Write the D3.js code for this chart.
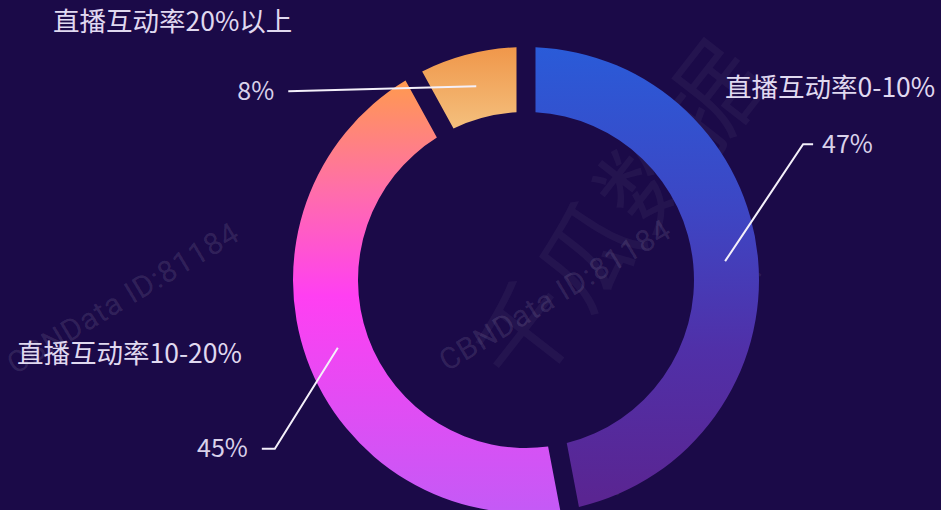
<!DOCTYPE html>
<html>
<head>
<meta charset="utf-8">
<script src="https://cdn.jsdelivr.net/npm/d3@7"></script>
<style>
  html, body { margin: 0; padding: 0; background: #1b0a48; }
  svg { display: block; }
</style>
</head>
<body>
<script>
//Chart data
var categories = ["直播互动率0-10%", "直播互动率10-20%", "直播互动率20%以上"];
var values = [47, 45, 8];
var percentLabels = ["47%", "45%", "8%"];

//SVG size
var w = 941;
var h = 510;
var cx = 526, cy = 280;
var rOuter = 233, rInner = 168, rLabel = 200;

var svg = d3.select("body")
  .append("svg")
  .attr("width", w)
  .attr("height", h);

svg.append("rect")
  .attr("width", w)
  .attr("height", h)
  .attr("fill", "#1b0a48");

//Gradients, one per slice (vertical, y given in page pixels)
var gradients = [
  {id: "g0", y1: 47, y2: 512, stops: [[0, "#2a5bd8"], [0.35, "#3d46c4"], [0.65, "#5030a8"], [1, "#5b2490"]]},
  {id: "g1", y1: 80, y2: 512, stops: [[0, "#ff9a4e"], [0.25, "#ff6fa8"], [0.5, "#ff3ff2"], [1, "#c45af6"]]},
  {id: "g2", y1: 47, y2: 130, stops: [[0, "#f0974a"], [1, "#f4c07e"]]}
];

var defs = svg.append("defs");
gradients.forEach(function (g) {
  //slices live in a group translated to the centre, so shift by cy
  var lg = defs.append("linearGradient")
    .attr("id", g.id)
    .attr("gradientUnits", "userSpaceOnUse")
    .attr("x1", 0).attr("x2", 0)
    .attr("y1", g.y1 - cy).attr("y2", g.y2 - cy);
  g.stops.forEach(function (s) {
    lg.append("stop").attr("offset", s[0]).attr("stop-color", s[1]);
  });
});

//Watermarks (faint, behind everything)
var wm = svg.append("g").attr("fill", "#ffffff").attr("font-family", "Roboto, sans-serif");
[[15, 375], [447, 372]].forEach(function (p) {
  wm.append("text")
    .attr("transform", "translate(" + p[0] + "," + p[1] + ") rotate(-31)")
    .attr("font-size", "30px")
    .attr("letter-spacing", "1px")
    .attr("fill-opacity", 0.11)
    .text("CBNData ID:81184");
});
wm.append("text")
  .attr("transform", "translate(525,395) rotate(-52)")
  .attr("font-size", "100px")
  .attr("font-family", "'Noto Sans CJK SC', sans-serif")
  .attr("fill-opacity", 0.045)
  .text("千瓜数据");
wm.append("text")
  .attr("transform", "translate(615,500) rotate(-57)")
  .attr("font-size", "30px")
  .attr("letter-spacing", "1px")
  .attr("fill-opacity", 0.08)
  .text("www.qian-gua.com");

//Donut
var pie = d3.pie().sort(null).value(function (d) { return d; });
var arcs = pie(values);

var arc = d3.arc()
  .innerRadius(rInner)
  .outerRadius(rOuter)
  .padRadius(rOuter)
  .padAngle(19 / rOuter);

var labelArc = d3.arc().innerRadius(rLabel).outerRadius(rLabel);

var g = svg.append("g").attr("transform", "translate(" + cx + "," + cy + ")");

g.selectAll("path.slice")
  .data(arcs)
  .enter()
  .append("path")
  .attr("class", "slice")
  .attr("d", arc)
  .attr("fill", function (d, i) { return "url(#" + gradients[i].id + ")"; });

//Leader lines: start at ring middle, elbow, short tail
var elbows = [[78, -117], [-63, 101], [-188, 5]];
var tails = [10, -13, 0];

arcs.forEach(function (d, i) {
  var p0 = labelArc.centroid(d);
  var p1 = [p0[0] + elbows[i][0], p0[1] + elbows[i][1]];
  var p2 = [p1[0] + tails[i], p1[1]];
  g.append("path")
    .attr("d", d3.line()([p0, p1, p2]))
    .attr("fill", "none")
    .attr("stroke", "#f4f0fa")
    .attr("stroke-width", 2);
  var right = p2[0] > 0;
  g.append("text")
    .attr("x", p2[0] + (right ? 9 : -14))
    .attr("y", p2[1])
    .attr("dy", "0.35em")
    .attr("text-anchor", right ? "start" : "end")
    .attr("font-family", "'Noto Sans CJK SC', 'Noto Sans', sans-serif")
    .attr("font-size", "25px")
    .attr("fill", "#d9d1ea")
    .text(percentLabels[i]);
});

//Category names
var namePos = [[725, 88], [17, 354], [53, 22]];
svg.selectAll("text.name")
  .data(categories)
  .enter()
  .append("text")
  .attr("class", "name")
  .attr("x", function (d, i) { return namePos[i][0]; })
  .attr("y", function (d, i) { return namePos[i][1]; })
  .attr("dy", "0.35em")
  .attr("font-family", "'Noto Sans CJK SC', sans-serif")
  .attr("font-size", "26.5px")
  .attr("fill", "#e0d9f0")
  .text(function (d) { return d; });
</script>
</body>
</html>
